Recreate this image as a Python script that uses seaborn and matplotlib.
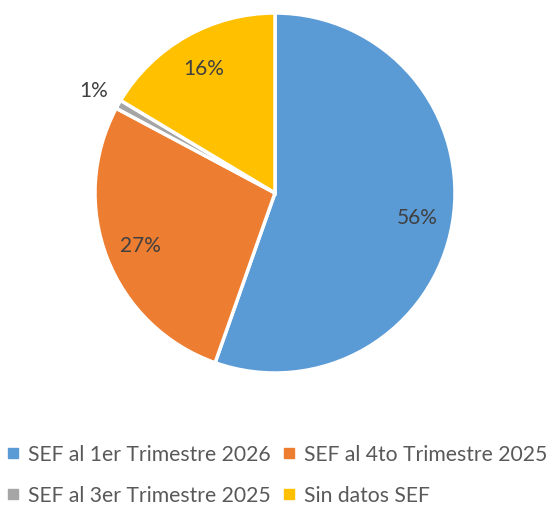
import numpy as np
import matplotlib
matplotlib.use("Agg")
import matplotlib.pyplot as plt
from matplotlib.lines import Line2D
import seaborn as sns

# Share of entities by SEF reporting status
categories = ["SEF al 1er Trimestre 2026", "SEF al 4to Trimestre 2025",
              "SEF al 3er Trimestre 2025", "Sin datos SEF"]
shares = [55.4, 27.4, 0.8, 16.4]
pct_labels = ["56%", "27%", "1%", "16%"]
colors = ["#5B9BD5", "#ED7D31", "#A5A5A5", "#FFC000"]

sns.set_theme(style="white")
plt.rcParams['font.family'] = ['Lato', 'DejaVu Sans']

fig = plt.figure(figsize=(5.52, 5.10), dpi=100)
ax = fig.add_axes([95 / 552, 136 / 510, 360 / 552, 360 / 510])

wedges, _ = ax.pie(shares, colors=colors, startangle=90, counterclock=False,
                   wedgeprops=dict(edgecolor="white", linewidth=2.5))
ax.set_xlim(-1, 1)
ax.set_ylim(-1, 1)
ax.set_aspect("equal")
ax.axis("off")

# percentage labels, the tiny slice sits outside
dist = [0.8, 0.8, 1.16, 0.8]
for w, lab, d in zip(wedges, pct_labels, dist):
    ang = np.deg2rad((w.theta1 + w.theta2) / 2)
    ax.text(d * np.cos(ang), d * np.sin(ang), lab, ha="center", va="center",
            fontsize=15, color="#404040", clip_on=False)

handles = [Line2D([], [], marker="s", linestyle="none", markersize=7,
                  markerfacecolor=c, markeredgecolor=c) for c in colors]
# legend fills by column, so reorder to read row by row
order = [0, 2, 1, 3]
fig.legend([handles[i] for i in order], [categories[i] for i in order],
           loc="lower center", ncol=2, bbox_to_anchor=(0.5, -0.03),
           frameon=False, fontsize=15.2, labelcolor="#595959",
           handletextpad=0.3, columnspacing=0.5, labelspacing=1.0,
           handlelength=0.8)

fig.savefig("out.png", dpi=100, facecolor="white")
